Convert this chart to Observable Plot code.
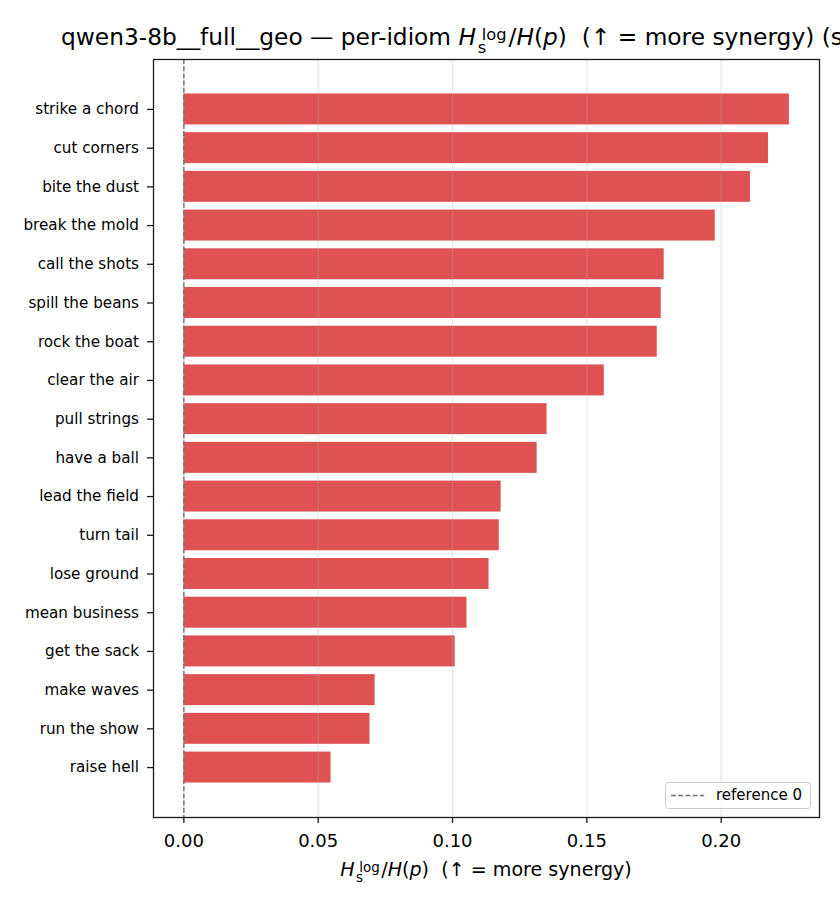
<!DOCTYPE html>
<html><head><meta charset="utf-8">
<script src="https://cdn.jsdelivr.net/npm/d3@7"></script>
<script src="https://cdn.jsdelivr.net/npm/@observablehq/plot@0.6"></script>
<style>
html,body{margin:0;padding:0;background:#fff;overflow:hidden;}
#wrap{position:relative;width:840px;height:910px;overflow:hidden;}
</style></head><body><div id="wrap"></div>
<script>
const idioms = ["strike a chord","cut corners","bite the dust","break the mold","call the shots","spill the beans","rock the boat","clear the air","pull strings","have a ball","lead the field","turn tail","lose ground","mean business","get the sack","make waves","run the show","raise hell"];
const values = [0.2254,0.2176,0.2109,0.1978,0.1788,0.1777,0.1762,0.1565,0.1352,0.1315,0.1181,0.1174,0.1136,0.1054,0.1010,0.0712,0.0693,0.0548];
const xTicks = [0, 0.05, 0.10, 0.15, 0.20];
const xTickLabels = ["0.00","0.05","0.10","0.15","0.20"];
const titleText = "qwen3-8b__full__geo — per-idiom ";
const titleTail = ")  (↑ = more synergy) (sorted)";
const xLabelTail = ")  (↑ = more synergy)";
const legendLabel = "reference 0";

const data = idioms.map((d, i) => ({idiom: d, value: values[i]}));

const chart = Plot.plot({
  width: 840, height: 910,
  marginLeft: 153, marginRight: 21, marginTop: 59, marginBottom: 93,
  style: {fontFamily: "DejaVu Sans", background: "white", color: "#000", overflow: "hidden"},
  x: {domain: [-0.0113, 0.2366]},
  y: {domain: idioms, paddingInner: 0.2, paddingOuter: 0.89, round: false},
  marks: [
    Plot.barX(data, {x: "value", y: "idiom", fill: "#d62728", fillOpacity: 0.8}),
    Plot.gridX({ticks: xTicks, stroke: "#b0b0b0", strokeOpacity: 0.3, strokeWidth: 1.2}),
    Plot.ruleX([0], {stroke: "#707070", strokeWidth: 1.4, strokeDasharray: "5,2.2"}),
    Plot.frame({stroke: "#1a1a1a", strokeWidth: 1.3}),
    Plot.axisX({ticks: xTicks, tickFormat: d => xTickLabels[xTicks.indexOf(d)], tickSize: 6, tickPadding: 11, fontSize: 18, stroke: "#1a1a1a", strokeWidth: 1.3, label: null}),
    Plot.axisY({tickSize: 6, tickPadding: 8.5, fontSize: 15.2, stroke: "#1a1a1a", strokeWidth: 1.3, label: null})
  ]
});

const svg = d3.select(chart);

function mathText(sel, F) {
  const S = 0.7 * F;
  sel.append("tspan").attr("font-style", "italic").text("H");
  sel.append("tspan").attr("font-size", S).attr("dx", 0.08 * F).attr("dy", 0.34 * F).text("s");
  sel.append("tspan").attr("font-size", S).attr("dx", -0.521 * S + 0.17 * F).attr("dy", -0.55 * F).text("log");
  sel.append("tspan").attr("font-size", F).attr("dx", 0.08 * F).attr("dy", 0.21 * F).text("/");
  sel.append("tspan").attr("font-style", "italic").text("H");
  sel.append("tspan").text("(");
  sel.append("tspan").attr("font-style", "italic").text("p");
}

// Title
const tF = 23.3;
const title = svg.append("text")
  .attr("x", 61).attr("y", 45).attr("text-anchor", "start")
  .attr("font-family", "DejaVu Sans").attr("font-size", tF).attr("fill", "#000")
  .style("white-space", "pre");
title.append("tspan").text(titleText);
mathText(title, tF);
title.append("tspan").text(titleTail);

// X label
const lF = 19.1;
const xl = svg.append("text")
  .attr("x", 486).attr("y", 876).attr("text-anchor", "middle")
  .attr("font-family", "DejaVu Sans").attr("font-size", lF).attr("fill", "#000")
  .style("white-space", "pre");
mathText(xl, lF);
xl.append("tspan").text(xLabelTail);

// Legend
const lg = svg.append("g");
lg.append("rect").attr("x", 665.5).attr("y", 782.5).attr("width", 145).attr("height", 26).attr("rx", 3)
  .attr("fill", "white").attr("fill-opacity", 0.8).attr("stroke", "#cccccc").attr("stroke-width", 1);
lg.append("line").attr("x1", 671).attr("x2", 704).attr("y1", 795.5).attr("y2", 795.5)
  .attr("stroke", "#707070").attr("stroke-width", 1.4).attr("stroke-dasharray", "5,2.2");
lg.append("text").attr("x", 716).attr("y", 800).attr("text-anchor", "start").attr("font-family", "DejaVu Sans").attr("font-size", 15).attr("fill", "#000").text(legendLabel);

document.getElementById("wrap").appendChild(chart);
</script></body></html>
